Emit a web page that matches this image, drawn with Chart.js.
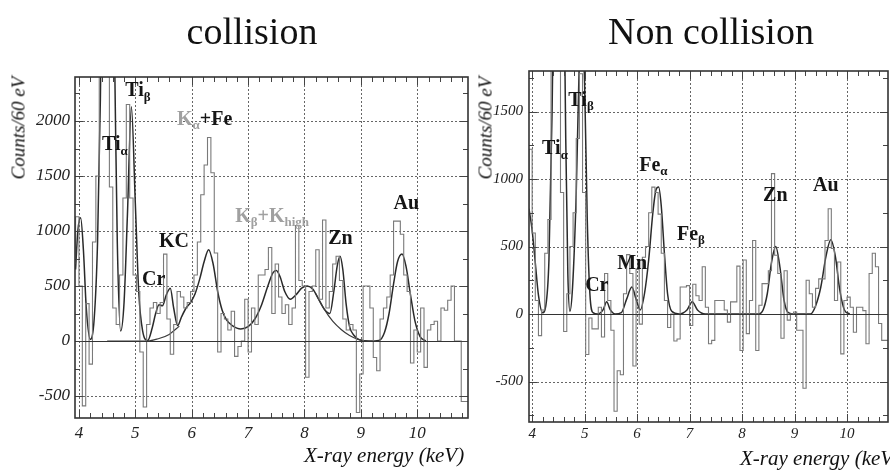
<!DOCTYPE html>
<html><head><meta charset="utf-8">
<script src="https://cdn.jsdelivr.net/npm/chart.js@4.4.1/dist/chart.umd.min.js"></script>
<style>
html,body{margin:0;padding:0;background:#fff;width:890px;height:470px;overflow:hidden;position:relative;font-family:"Liberation Serif",serif;}
.cv{position:absolute;top:0;}
.t{position:absolute;white-space:nowrap;color:#111;line-height:1;}
.ttl{font-size:38px;top:12px;text-align:center;width:300px;}
.yl{font-style:italic;font-size:19px;transform:translate(-50%,-50%) rotate(-90deg);}
.xl{font-style:italic;font-size:21px;}
</style></head><body>
<canvas id="c1" class="cv" width="480" height="470" style="left:0"></canvas>
<canvas id="c2" class="cv" width="410" height="470" style="left:480px"></canvas>
<div class="t ttl" style="left:102px">collision</div>
<div class="t ttl" style="left:561px">Non collision</div>
<div class="t yl" style="left:18px;top:128px">Counts/60 eV</div>
<div class="t yl" style="left:485px;top:128px">Counts/60 eV</div>
<div class="t xl" style="left:304px;top:445px">X-ray energy (keV)</div>
<div class="t xl" style="left:740px;top:448px">X-ray energy (keV)</div>
<script>
// ---------- data ----------
const binWidth = 0.06;               // keV per bin (Counts/60 eV)
const energyTicks = [4,5,6,7,8,9,10];
const collisionCountTicks = [-500,0,500,1000,1500,2000];
const nonCollisionCountTicks = [-500,0,500,1000,1500];

const collisionBinStart = 3.94;
const collisionCounts = [700,1130,500,-590,340,-210,900,1500,3000,3500,3000,1400,300,150,600,1300,2150,1300,600,450,
 -100,-600,150,300,350,250,350,790,200,-120,150,450,400,300,350,450,600,900,1330,1600,
 1850,1530,800,-100,250,200,100,270,-140,-50,0,380,-100,300,150,600,600,650,850,250,
 700,400,250,330,150,300,1050,550,500,-330,450,500,830,380,1100,300,450,700,770,550,
 200,100,150,100,-650,-300,500,500,300,-150,-270,200,300,400,600,1090,1090,970,600,450,
 -200,100,-100,300,-240,100,150,180,0,300,280,370,500,0,0,-550];
const collisionFitE = [3.94,3.98,4.03,4.08,4.13,4.20,4.27,4.33,4.38,4.43,4.51,4.59,4.64,4.68,4.74,4.80,4.86,4.93,5.00,5.06,
 5.13,5.22,5.30,5.36,5.42,5.48,5.55,5.62,5.68,5.75,5.82,5.90,5.98,6.06,6.14,6.22,6.30,6.38,6.46,6.54,
 6.62,6.72,6.87,7.00,7.12,7.24,7.35,7.44,7.50,7.57,7.65,7.75,7.85,7.95,8.05,8.15,8.25,8.35,8.45,8.52,
 8.58,8.63,8.68,8.74,8.80,8.88,8.98,9.15,9.32,9.42,9.50,9.58,9.65,9.73,9.80,9.88,9.96,10.05,10.15];
const collisionFit = [650,1000,1120,820,300,15,200,900,2200,4200,5500,4200,2300,900,90,350,1150,2130,1250,450,
 90,5,120,250,330,320,420,480,300,140,220,300,350,430,560,720,830,700,450,280,
 190,140,110,130,200,330,500,620,640,580,450,380,420,480,500,470,380,290,250,450,
 680,770,650,330,130,50,10,0,5,80,250,520,720,790,680,420,180,40,0];
const collisionBgE = [4.50,5.22,5.40,5.60,5.78,null,8.20,8.35,8.50,8.65,8.80,8.95,9.10];
const collisionBg  = [0,0,20,60,135,null,430,290,180,105,50,15,0];

const nonCollisionBinStart = 3.94;
const nonCollisionCounts = [750,1220,600,100,-160,30,450,700,2500,2500,2200,900,-130,150,500,750,1300,1780,900,-300,
 -30,-110,-110,50,-170,300,100,-120,-720,-420,-450,150,440,300,-385,330,-75,420,500,750,
 940,900,740,450,100,-100,0,-200,-185,200,200,210,-85,220,135,100,350,50,-220,-195,
 100,100,100,30,-60,90,90,355,-270,400,-145,100,545,-270,65,225,225,320,1040,435,
 300,-180,320,-45,0,15,-120,-120,-550,250,150,50,190,260,260,545,780,485,100,385,
 -295,100,125,50,-135,50,50,25,-220,300,450,350,-70,-195];
const nonCollisionFitE = [3.94,4.00,4.06,4.12,4.20,4.26,4.32,4.38,4.43,4.51,4.59,4.64,4.68,4.72,4.77,4.84,4.90,4.94,5.00,5.05,
 5.10,5.16,5.25,5.35,5.42,5.49,5.58,5.70,5.80,5.90,5.98,6.06,6.14,6.22,6.30,6.36,6.41,6.46,6.52,6.58,
 6.66,6.80,6.95,7.05,7.15,7.30,8.30,8.40,8.48,8.56,8.64,8.72,8.80,8.88,9.00,9.30,9.40,9.50,9.60,9.69,
 9.78,9.86,9.95,10.05];
const nonCollisionFit = [780,620,380,140,10,60,400,1500,3000,4000,3000,1300,300,20,200,900,1900,2300,1700,700,
 150,10,0,30,90,30,0,10,110,200,110,30,150,400,750,920,940,800,450,150,
 20,0,30,90,30,0,0,30,150,380,500,350,100,10,0,0,60,200,430,550,
 420,180,30,0];

const collisionLabels = [
  {e:4.82, v:2270, parts:[['Ti'],['β',1]]},
  {e:4.41, v:1780, parts:[['Ti'],['α',1]]},
  {e:5.74, v:2010, parts:[['K',0,'#a0a0a0'],['α',1,'#a0a0a0'],['+Fe']]},
  {e:5.42, v:900,  parts:[['KC']]},
  {e:5.12, v:560,  parts:[['Cr']]},
  {e:6.77, v:1130, parts:[['K',0,'#a0a0a0'],['β',1,'#a0a0a0'],['+K',0,'#a0a0a0'],['high',1,'#a0a0a0']]},
  {e:8.42, v:930,  parts:[['Zn']]},
  {e:9.58, v:1245, parts:[['Au']]}
];
const nonCollisionLabels = [
  {e:4.69, v:1580, parts:[['Ti'],['β',1]]},
  {e:4.19, v:1220, parts:[['Ti'],['α',1]]},
  {e:6.04, v:1100, parts:[['Fe'],['α',1]]},
  {e:6.76, v:590,  parts:[['Fe'],['β',1]]},
  {e:5.62, v:370,  parts:[['Mn']]},
  {e:5.01, v:210,  parts:[['Cr']]},
  {e:8.40, v:875,  parts:[['Zn']]},
  {e:9.35, v:950,  parts:[['Au']]}
];

// ---------- helpers ----------
function histPoints(start, counts){
  const pts = counts.map((c,i)=>({x: +(start + i*binWidth).toFixed(3), y: c}));
  pts.push({x: +(start + counts.length*binWidth).toFixed(3), y: counts[counts.length-1]});
  return pts;
}
function curvePoints(es, vs){ return es.map((e,i)=> e===null ? {x:null,y:null} : {x:e, y:vs[i]}); }

function decoPlugin(labels){
  return {
    id:'deco',
    beforeDatasetsDraw(chart){
      const {ctx, chartArea:a, scales:{x,y}} = chart;
      ctx.save();
      ctx.strokeStyle = '#666'; ctx.lineWidth = 1; ctx.setLineDash([2,2]);
      x.ticks.forEach(t=>{ const p=Math.round(x.getPixelForValue(t.value))+0.5;
        ctx.beginPath(); ctx.moveTo(p,a.top); ctx.lineTo(p,a.bottom); ctx.stroke(); });
      y.ticks.forEach(t=>{ if(t.value===0) return; const p=Math.round(y.getPixelForValue(t.value))+0.5;
        ctx.beginPath(); ctx.moveTo(a.left,p); ctx.lineTo(a.right,p); ctx.stroke(); });
      ctx.restore();
    },
    afterDatasetsDraw(chart){
      const {ctx, chartArea:a, scales:{x,y}} = chart;
      ctx.save();
      const z = Math.round(y.getPixelForValue(0))+0.5;
      ctx.strokeStyle='#333'; ctx.lineWidth=1.2;
      ctx.beginPath(); ctx.moveTo(a.left,z); ctx.lineTo(a.right,z); ctx.stroke();
      ctx.strokeStyle='#444'; ctx.lineWidth=1;
      for(let k=Math.ceil(x.min/0.2); k*0.2<=x.max; k++){
        const v=k*0.2; const p=Math.round(x.getPixelForValue(v))+0.5;
        const major = Math.abs(v-Math.round(v))<1e-6; const L = major?8:5;
        ctx.beginPath(); ctx.moveTo(p,a.bottom); ctx.lineTo(p,a.bottom-L);
        ctx.moveTo(p,a.top); ctx.lineTo(p,a.top+L); ctx.stroke();
      }
      for(let k=Math.ceil(y.min/250); k*250<=y.max; k++){
        const v=k*250; const p=Math.round(y.getPixelForValue(v))+0.5;
        const L = (v%500===0)?8:5;
        ctx.beginPath(); ctx.moveTo(a.left,p); ctx.lineTo(a.left+L,p);
        ctx.moveTo(a.right,p); ctx.lineTo(a.right-L,p); ctx.stroke();
      }
      ctx.strokeStyle='#333'; ctx.lineWidth=1.6;
      ctx.strokeRect(a.left, a.top, a.right-a.left, a.bottom-a.top);
      ctx.textBaseline='middle'; ctx.textAlign='left';
      labels.forEach(L=>{
        let px = x.getPixelForValue(L.e); const py = y.getPixelForValue(L.v);
        L.parts.forEach(([txt, sub, col])=>{
          ctx.fillStyle = col || '#151515';
          ctx.font = sub ? 'bold 13px "Liberation Serif"' : 'bold 20px "Liberation Serif"';
          ctx.fillText(txt, px, sub ? py+6 : py);
          px += ctx.measureText(txt).width;
        });
      });
      ctx.restore();
    }
  };
}

function makeChart(id, opt){
  const tickFont = {family:'"Liberation Serif"', style:'italic', size:opt.fontSize};
  return new Chart(document.getElementById(id), {
    type:'line',
    data:{datasets:[
      {data: histPoints(opt.binStart, opt.counts), stepped:'after', borderColor:'#7a7a7a', borderWidth:1.1, pointRadius:0, fill:false},
      {data: curvePoints(opt.bgE, opt.bg), borderColor:'#3a3a3a', borderWidth:1.2, pointRadius:0, cubicInterpolationMode:'monotone', spanGaps:false, fill:false},
      {data: curvePoints(opt.fitE, opt.fit), borderColor:'#2a2a2a', borderWidth:1.5, pointRadius:0, cubicInterpolationMode:'monotone', fill:false}
    ]},
    options:{
      responsive:false, animation:false,
      layout:{padding:{left:0, top:opt.top, right:opt.padRight, bottom:0}},
      plugins:{legend:{display:false}, tooltip:{enabled:false}},
      scales:{
        x:{type:'linear', min:opt.xmin, max:opt.xmax,
           afterBuildTicks(s){ s.ticks = energyTicks.map(v=>({value:v})); },
           ticks:{font:tickFont, color:'#222', padding:opt.xPad, maxRotation:0, autoSkip:false, callback:v=>String(v)},
           grid:{display:false, drawTicks:false}, border:{display:false},
           afterFit(s){ s.height = opt.xHeight; }},
        y:{type:'linear', min:opt.ymin, max:opt.ymax,
           afterBuildTicks(s){ s.ticks = opt.yTicks.map(v=>({value:v})); },
           ticks:{font:tickFont, color:'#222', padding:opt.yPad, autoSkip:false, callback:v=>String(v)},
           grid:{display:false, drawTicks:false}, border:{display:false},
           afterFit(s){ s.width = opt.yWidth; }}
      }
    },
    plugins:[decoPlugin(opt.labels)]
  });
}

makeChart('c1', {binStart:collisionBinStart, counts:collisionCounts, fitE:collisionFitE, fit:collisionFit,
  bgE:collisionBgE, bg:collisionBg, labels:collisionLabels, yTicks:collisionCountTicks,
  xmin:3.93, xmax:10.9, ymin:-700, ymax:2400, top:77, padRight:12, xHeight:52, yWidth:75, xPad:5, yPad:5, fontSize:17});
makeChart('c2', {binStart:nonCollisionBinStart, counts:nonCollisionCounts, fitE:nonCollisionFitE, fit:nonCollisionFit,
  bgE:[], bg:[], labels:nonCollisionLabels, yTicks:nonCollisionCountTicks,
  xmin:3.94, xmax:10.78, ymin:-800, ymax:1800, top:71, padRight:2, xHeight:48, yWidth:49, xPad:3, yPad:6, fontSize:15});
</script>
</body></html>
